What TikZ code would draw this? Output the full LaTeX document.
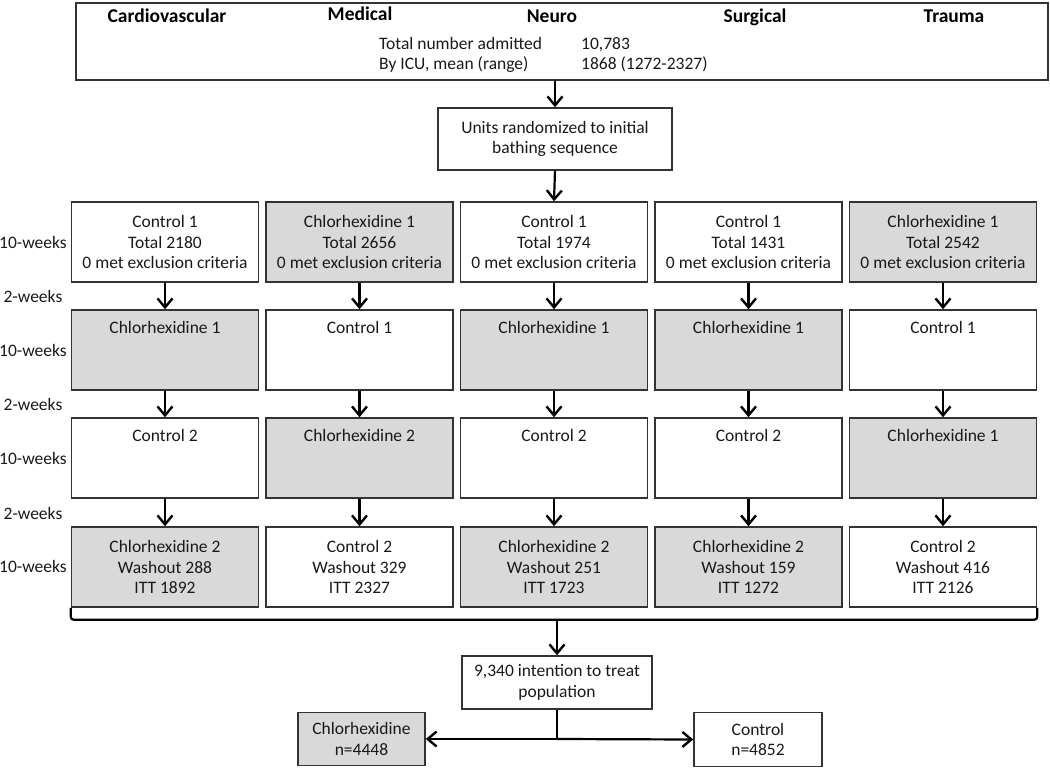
\documentclass[tikz,border=0pt]{standalone}
\usepackage{fontspec}
\setmainfont{Carlito}
\usetikzlibrary{arrows.meta}

\begin{document}
\begin{tikzpicture}[x=1pt,y=-1pt,
    box/.style={draw=black!80, line width=1.5pt, minimum width=187pt, minimum height=80pt,
      inner sep=0pt, align=center, text=black!90, font=\fontsize{17.5}{20.5}\selectfont},
    chx/.style={box, fill=black!15},
    txt/.style={inner sep=0pt, text=black!90, font=\fontsize{17.5}{20.5}\selectfont},
    hdr/.style={inner sep=0pt, anchor=base, font=\fontsize{19.5}{22}\selectfont\bfseries},
    arr/.style={line width=2.2pt, -{Straight Barb[length=9pt,width=15pt,line width=2.4pt]}}]
  \useasboundingbox (0,0) rectangle (1050,768);
  % top box with the five units
  \node[box, minimum width=972pt, minimum height=77pt] (units) at (562,41.5) {};
  \node[hdr] (cardio) at (167,23) {Cardiovascular};
  \node[hdr] (medical) at (360,21) {Medical};
  \node[hdr] (neuro) at (552,23) {Neuro};
  \node[hdr] (surgical) at (755,23) {Surgical};
  \node[hdr] (trauma) at (954,23) {Trauma};
  \node[txt, anchor=base west] (admitted) at (379,50) {Total number admitted};
  \node[txt, anchor=base west] (admittedn) at (581,50) {10,783};
  \node[txt, anchor=base west] (byicu) at (379,70) {By ICU, mean (range)};
  \node[txt, anchor=base west] (byicun) at (581,70) {1868 (1272-2327)};
  \node[box, minimum width=234pt, minimum height=62pt] (random) at (555,139)
    {Units randomized to initial\\bathing sequence};
  \draw[arr] (units.south -| random) -- (random.north);
  % period labels on the left
  \foreach \y/\t in {242/10-weeks, 296/2-weeks, 350/10-weeks, 404/2-weeks,
      458/10-weeks, 513/2-weeks, 566/10-weeks}{%
    \node[txt] (wk\y) at (33,\y) {\t};}
  % first period
  \foreach \x/\c/\s/\a/\n in {165/1/box/Control 1/2180, 359.5/2/chx/Chlorhexidine 1/2656,
      554/3/box/Control 1/1974, 748.5/4/box/Control 1/1431, 943/5/chx/Chlorhexidine 1/2542}{%
    \node[\s] (r1-\c) at (\x,242) {\a\\Total \n\\0 met exclusion criteria};}
  \draw[arr] (random.south) -- (r1-3.north);
  % second and third period, text at the top of the box
  \foreach \x/\c/\s/\a in {165/1/chx/Chlorhexidine 1, 359.5/2/box/Control 1,
      554/3/chx/Chlorhexidine 1, 748.5/4/chx/Chlorhexidine 1, 943/5/box/Control 1}{%
    \node[\s] (r2-\c) at (\x,350) {};
    \node[txt, anchor=base] (r2-\c t) at ([yshift=-24pt]r2-\c.north) {\a};}
  \foreach \x/\c/\s/\a in {165/1/box/Control 2, 359.5/2/chx/Chlorhexidine 2,
      554/3/box/Control 2, 748.5/4/box/Control 2, 943/5/chx/Chlorhexidine 1}{%
    \node[\s] (r3-\c) at (\x,458) {};
    \node[txt, anchor=base] (r3-\c t) at ([yshift=-24pt]r3-\c.north) {\a};}
  % last period
  \foreach \x/\c/\s/\a/\w/\i in {165/1/chx/Chlorhexidine 2/288/1892, 359.5/2/box/Control 2/329/2327,
      554/3/chx/Chlorhexidine 2/251/1723, 748.5/4/chx/Chlorhexidine 2/159/1272,
      943/5/box/Control 2/416/2126}{%
    \node[\s] (r4-\c) at (\x,567) {\a\\Washout \w\\ITT \i};}
  \foreach \c in {1,...,5}{%
    \foreach \r/\n in {1/2,2/3,3/4}{%
      \draw[arr] (r\r-\c.south) -- (r\n-\c.north);}}
  % pooled population
  \draw[line width=2.2pt, rounded corners=3pt] (r4-1.south west) -- ++(0,12) -| (r4-5.south east);
  \coordinate (pool) at (557,619);
  \node[box, minimum width=190pt, minimum height=53pt] (itt) at (557,682.5)
    {9,340 intention to treat\\population};
  \draw[arr] (pool) -- (itt.north);
  \node[chx, minimum width=127pt, minimum height=53pt] (chg) at (361.5,739) {Chlorhexidine\\n=4448};
  \node[box, minimum width=128pt, minimum height=54pt] (ctl) at (758,739.5) {Control\\n=4852};
  \coordinate (split) at (itt.south |- chg.east);
  \draw[line width=2.2pt] (itt.south) -- (split);
  \draw[arr] (split) -- (chg.east);
  \draw[arr] (split) -- (ctl.west);
\end{tikzpicture}
\end{document}
